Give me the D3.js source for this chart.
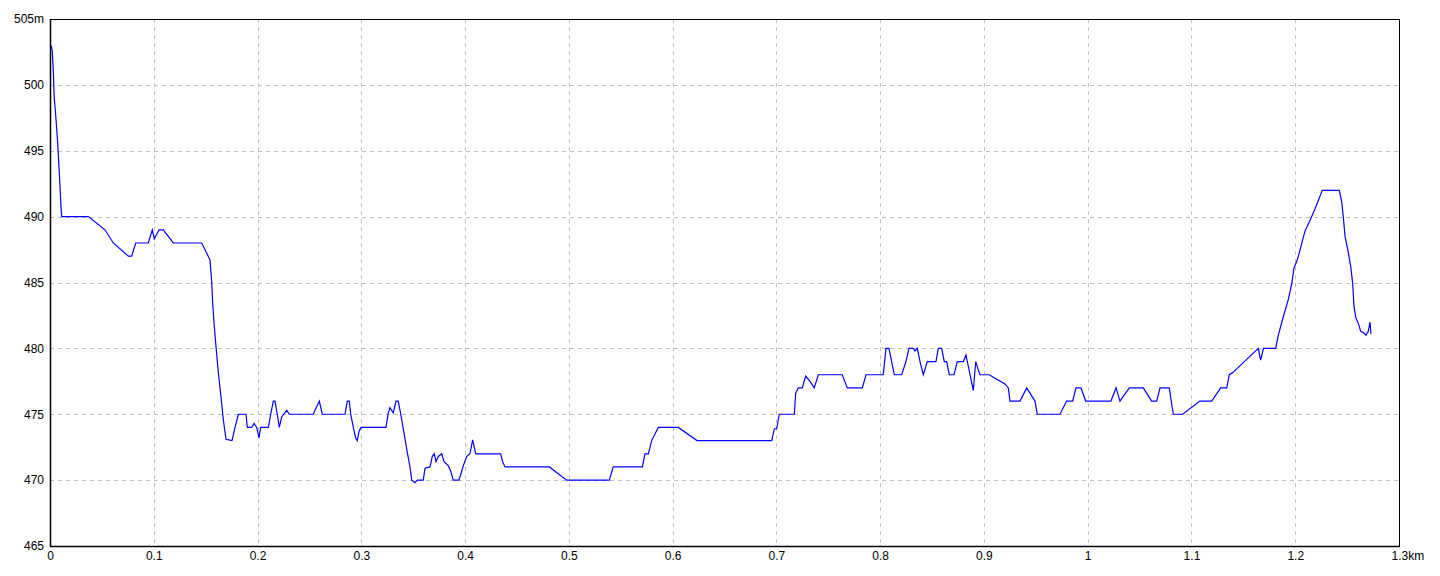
<!DOCTYPE html>
<html><head><meta charset="utf-8">
<script src="https://cdn.jsdelivr.net/npm/d3@7"></script>
<style>
html,body{margin:0;padding:0;background:#fff;}
svg{display:block;}
.tick text{font-family:"Liberation Sans Narrow","Liberation Sans",Arial,sans-serif;font-size:12px;fill:#000;}
</style></head>
<body><svg id="c" width="1440" height="576"></svg>
<script>
const distanceKm = [0.001,0.0022,0.0032,0.0041,0.0055,0.0065,0.0074,0.0084,0.0096,0.0106,0.0113,0.0369,0.053,0.061,0.0755,0.0787,0.0826,0.0947,0.0986,0.1005,0.105,0.1092,0.1188,0.1462,0.1525,0.1542,0.1558,0.1568,0.158,0.16,0.1622,0.1648,0.167,0.1696,0.1754,0.1783,0.1815,0.1889,0.1901,0.1944,0.1966,0.1992,0.2014,0.203,0.2104,0.2127,0.2152,0.2168,0.219,0.221,0.2233,0.2281,0.2306,0.2537,0.2595,0.2624,0.2843,0.2865,0.2884,0.2898,0.2923,0.2946,0.2961,0.2978,0.2997,0.3238,0.326,0.3276,0.3308,0.3334,0.3356,0.338,0.3411,0.3443,0.3469,0.3486,0.3517,0.354,0.3597,0.3614,0.3662,0.3684,0.3703,0.372,0.3742,0.3775,0.3797,0.3838,0.3861,0.3886,0.3941,0.3961,0.3983,0.4016,0.4047,0.4073,0.4086,0.4102,0.4343,0.4362,0.4385,0.4812,0.4979,0.539,0.5428,0.5708,0.5734,0.5766,0.5798,0.5862,0.6055,0.6235,0.6955,0.698,0.7003,0.7028,0.7173,0.7186,0.7211,0.725,0.7282,0.7324,0.7365,0.7404,0.7635,0.7683,0.7828,0.7864,0.803,0.8056,0.8085,0.8136,0.8207,0.8249,0.8278,0.8319,0.8336,0.8358,0.8384,0.8416,0.8454,0.8538,0.856,0.8593,0.8618,0.8641,0.8666,0.8712,0.8743,0.8801,0.8827,0.8866,0.8898,0.8921,0.894,0.8962,0.9052,0.909,0.9203,0.9235,0.9251,0.9348,0.9412,0.9468,0.9492,0.9514,0.9733,0.9797,0.9855,0.9887,0.9935,0.998,1.0224,1.0273,1.0311,1.0401,1.0536,1.0616,1.0665,1.0697,1.0786,1.0825,1.0915,1.1082,1.1195,1.1282,1.134,1.1365,1.1403,1.1644,1.1667,1.1694,1.1812,1.1837,1.1885,1.1933,1.1966,1.1988,1.202,1.2094,1.2142,1.2191,1.2261,1.2425,1.2448,1.2463,1.248,1.2511,1.2535,1.2554,1.2566,1.2585,1.2608,1.2631,1.2656,1.2682,1.2704,1.272,1.273];
const elevationM = [503,502.6,501,499,497.7,496.6,495.6,494.1,492.4,490.7,490,490,489,488,487,487,488,488,489,488.3,489,489,488,488,487,486.7,485.1,483.4,482,480.1,478.2,476.3,474.6,473.1,473,474,475,475,474,474,474.3,474,473.2,474,474,475,476,476,475,474,474.8,475.3,475,475,476,475,475,476,476,475,474,473.2,473,473.7,474,474,475.1,475.5,475.1,476,476,475,473.6,472.1,471,470,469.8,470,470,470.9,471,471.8,472,471.4,471.8,472,471.4,471.1,470.7,470,470,470.5,471.1,471.8,472,473.05,472.6,472,472,471.4,471,471,470,470,471,471,472,472,473,474,474,473,473,473.9,473.9,475,475,476.6,477,477,477.9,477.5,477,478,478,477,477,478,478,480,480,478,478,479,480,480,479.8,480,479,478,479,479,480,480,479,479,478,478,479,479,479.5,478,476.8,479,478.5,478,478,477.8,477.3,477,476,476,477,476.3,476,475,475,476,476,477,477,476,476,477,476,477,477,476,476,477,477,475,475,476,476,477,477,478,478.2,480,479.1,480,480,481,482.4,483.7,484.9,486.1,486.7,488.9,489.7,490.6,492,492,491.1,490,488.5,487.3,486.2,484.9,483.2,482.3,481.9,481.3,481.2,481,481.3,482,481.1];
const xTicks = [0,0.1,0.2,0.3,0.4,0.5,0.6,0.7,0.8,0.9,1,1.1,1.2,1.3];
const xTickLabels = ["0","0.1","0.2","0.3","0.4","0.5","0.6","0.7","0.8","0.9","1","1.1","1.2","1.3km"];
const yTicks = [465,470,475,480,485,490,495,500,505];
const yTickLabels = ["465","470","475","480","485","490","495","500","505m"];

const L=50,R=1399,T=19,B=546;
const svg=d3.select("#c");
const x=d3.scaleLinear().domain([0,1.3]).range([L,R]);
const y=d3.scaleLinear().domain([465,505]).range([B,T]);

const grid=svg.append("g").attr("stroke","#c0c0c0").attr("stroke-dasharray","4,4").attr("shape-rendering","crispEdges");
grid.selectAll("line.v").data(xTicks.slice(1,-1)).join("line")
  .attr("x1",d=>Math.round(x(d))+0.5).attr("x2",d=>Math.round(x(d))+0.5).attr("y1",T).attr("y2",B);
grid.selectAll("line.h").data(yTicks.slice(1,-1)).join("line")
  .attr("y1",d=>Math.round(y(d))+0.5).attr("y2",d=>Math.round(y(d))+0.5).attr("x1",L).attr("x2",R);

const pts=distanceKm.map((d,i)=>[d,elevationM[i]]);
svg.append("path").datum(pts)
  .attr("fill","none").attr("stroke","#0000ff").attr("stroke-width",1.2)
  .attr("d",d3.line().x(d=>x(d[0])).y(d=>y(d[1])));

svg.append("rect").attr("x",L+0.5).attr("y",T+0.5).attr("width",R-L).attr("height",B-T)
  .attr("fill","none").attr("stroke","#000").attr("stroke-width",1).attr("shape-rendering","crispEdges");
svg.append("line").attr("x1",L+0.5).attr("x2",L+0.5).attr("y1",T).attr("y2",B+1).attr("stroke","#000").attr("stroke-width",1.5);
svg.append("line").attr("x1",L).attr("x2",R+1).attr("y1",B+0.5).attr("y2",B+0.5).attr("stroke","#000").attr("stroke-width",1.5);

const xa=svg.append("g").attr("transform",`translate(0,${B})`)
  .call(d3.axisBottom(x).tickValues(xTicks).tickSize(0).tickPadding(5).tickFormat((d,i)=>xTickLabels[i]));
xa.select(".domain").remove();
xa.selectAll(".tick").filter((d,i)=>i===xTicks.length-1).select("text").attr("text-anchor","start").attr("x",-8);

const ya=svg.append("g").attr("transform",`translate(${L-5},0)`)
  .call(d3.axisLeft(y).tickValues(yTicks).tickSize(0).tickPadding(1).tickFormat((d,i)=>yTickLabels[i]));
ya.select(".domain").remove();
</script></body></html>
